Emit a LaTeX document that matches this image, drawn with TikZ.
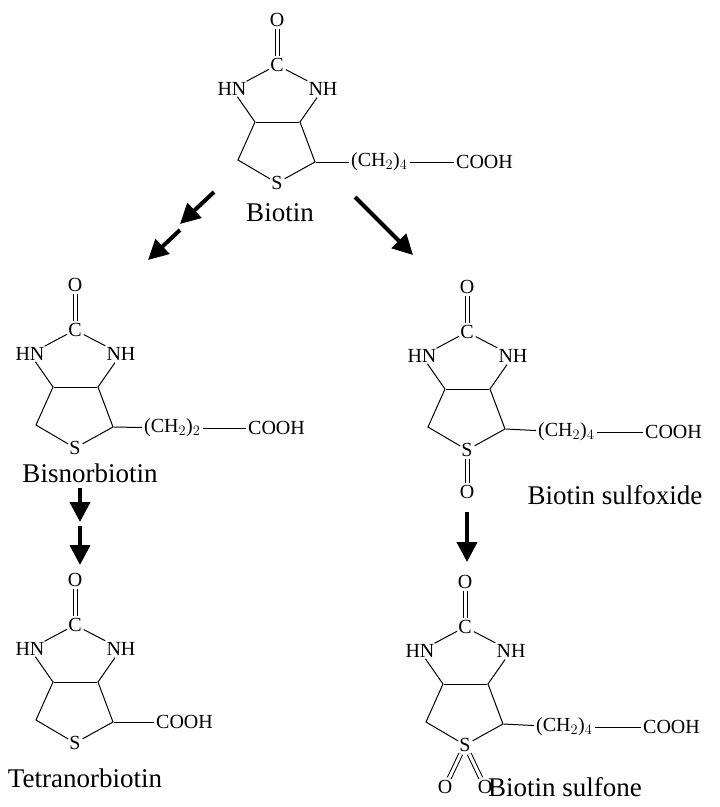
\documentclass[tikz,border=0pt]{standalone}
\usepackage{fontspec}
\setmainfont{Liberation Serif}
\usetikzlibrary{arrows.meta}

\newcommand{\core}{%
  \node[atom] (C) at (0,0) {C};
  \node[atom] (O) at (0,-45) {O};
  \node[atom] (HN) at (-45,24) {HN};
  \node[atom] (NH) at (46,24) {NH};
  \coordinate (bl) at (-22,57);
  \coordinate (br) at (23,57);
  \coordinate (cl) at (-39,95);
  \coordinate (cr) at (38,97);
  \node[atom] (S) at (0,118) {S};
  \draw[bond] (HN) -- (C) -- (NH);
  \draw[bond, double, double distance=3pt] (C) -- (O);
  \draw[bond] (bl) -- (br);
  \draw[bond] (HN) -- (bl) -- (cl) -- (S) -- (cr) -- (br) -- (NH);
}

\begin{document}
\begin{tikzpicture}[x=1pt, y=-1pt,
    atom/.style={inner sep=1pt, font=\fontsize{20}{20}\selectfont},
    mol name/.style={font=\fontsize{27}{27}\selectfont},
    bond/.style={line width=1pt, shorten <=1pt, shorten >=1pt},
    path arrow/.style={line width=4pt, -{Triangle[length=20pt, width=20pt]}},
    ]
  \useasboundingbox (0,0) rectangle (720,807);

  % biotin
  \begin{scope}[shift={(277,65)}, name prefix=bio-]
    \core
    \node[atom, anchor=west] (CH) at (73,97) {(CH$_2$)$_4$};
    \node[atom, anchor=west] (COOH) at (178,97) {COOH};
    \draw[bond] (cr) -- (CH);
    \draw[bond] (CH) -- (COOH);
    \node[mol name] (name) at (3,148) {Biotin};
  \end{scope}

  % bisnorbiotin
  \begin{scope}[shift={(75,330)}, name prefix=bis-]
    \core
    \node[atom, anchor=west] (CH) at (68,98) {(CH$_2$)$_2$};
    \node[atom, anchor=west] (COOH) at (172,98) {COOH};
    \draw[bond] (cr) -- (CH);
    \draw[bond] (CH) -- (COOH);
    \node[mol name] (name) at (15,143) {Bisnorbiotin};
  \end{scope}

  % tetranorbiotin
  \begin{scope}[shift={(75,625)}, name prefix=tet-]
    \core
    \node[atom, anchor=west] (COOH) at (80,97) {COOH};
    \draw[bond] (cr) -- (COOH);
    \node[mol name] (name) at (10,153) {Tetranorbiotin};
  \end{scope}

  % biotin sulfoxide
  \begin{scope}[shift={(467,332)}, name prefix=sox-]
    \core
    \node[atom] (OS) at (0,160) {O};
    \draw[bond, double, double distance=3pt] (S) -- (OS);
    \node[atom, anchor=west] (CH) at (70,100) {(CH$_2$)$_4$};
    \node[atom, anchor=west] (COOH) at (177,100) {COOH};
    \draw[bond] (cr) -- (CH);
    \draw[bond] (CH) -- (COOH);
    \node[mol name] (name) at (148,163) {Biotin sulfoxide};
  \end{scope}

  % biotin sulfone
  \begin{scope}[shift={(465,627)}, name prefix=son-]
    \core
    \node[atom] (OL) at (-20,160) {O};
    \node[atom] (OR) at (20,160) {O};
    \draw[bond, double, double distance=3pt] (S) -- (OL);
    \draw[bond, double, double distance=3pt] (S) -- (OR);
    \node[atom, anchor=west] (CH) at (70,100) {(CH$_2$)$_4$};
    \node[atom, anchor=west] (COOH) at (177,100) {COOH};
    \draw[bond] (cr) -- (CH);
    \draw[bond] (CH) -- (COOH);
    \node[mol name] (name) at (100,160) {Biotin sulfone};
  \end{scope}

  % arrows
  \coordinate (a1) at (214,192);
  \coordinate (a2) at (180,224);
  \coordinate (a3) at (180,230);
  \coordinate (a4) at (148,260);
  \coordinate (b1) at (355,197);
  \coordinate (b2) at (413,255);
  \coordinate (c1) at (80,488);
  \coordinate (c2) at (80,522);
  \coordinate (c3) at (80,526);
  \coordinate (c4) at (80,565);
  \coordinate (d1) at (467,512);
  \coordinate (d2) at (467,562);
  \draw[path arrow] (a1) -- (a2);
  \draw[path arrow] (a3) -- (a4);
  \draw[path arrow] (b1) -- (b2);
  \draw[path arrow] (c1) -- (c2);
  \draw[path arrow] (c3) -- (c4);
  \draw[path arrow] (d1) -- (d2);
\end{tikzpicture}
\end{document}
